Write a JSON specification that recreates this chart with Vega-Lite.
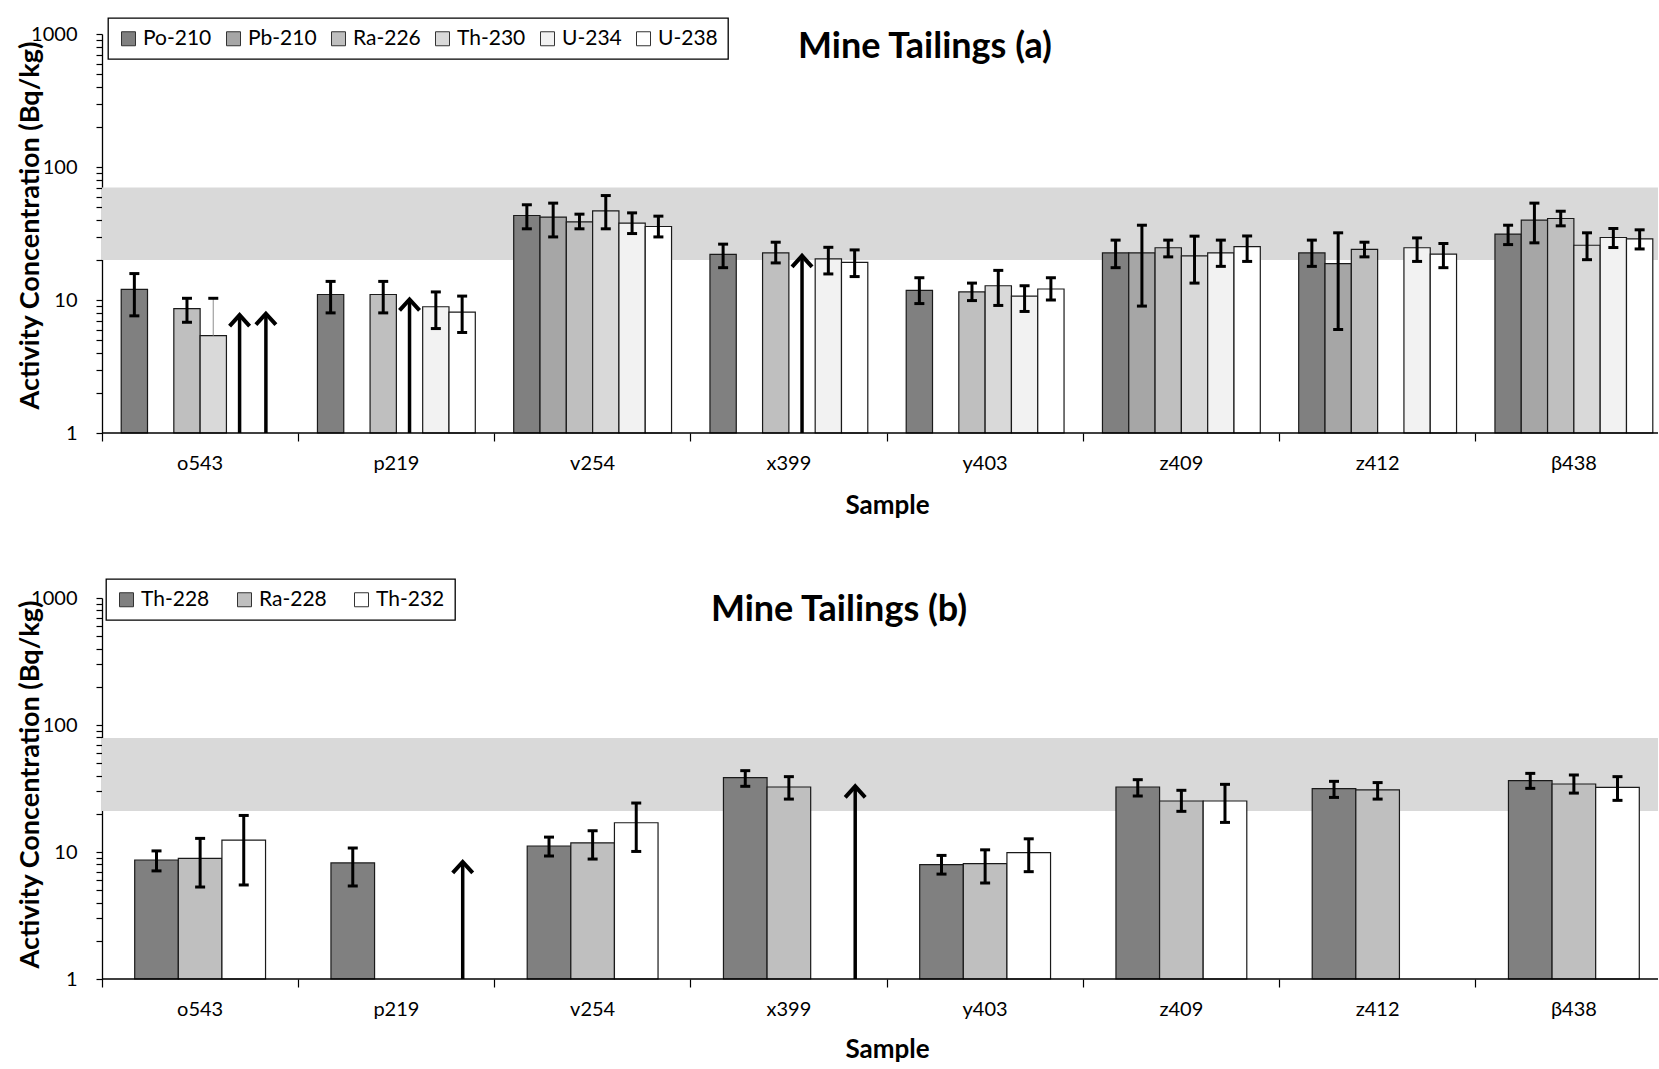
{
  "$schema": "https://vega.github.io/schema/vega-lite/v6.json",
  "background": "white",
  "padding": {"left": 15, "top": 17, "right": 0, "bottom": 0},
  "bounds": "flush",
  "spacing": 165,
  "config": {"font": "Lato", "view": {"stroke": null}, "legend": {"strokeWidth": 1.3}},
  "datasets": {
    "bandA": [{"lo": 20, "hi": 70}],
    "bandB": [{"lo": 21, "hi": 79}],
    "base": [{"v": 1}],
    "barsA": [
      {"sample": "o543", "nuclide": "Po-210", "value": 12.0, "lo": 7.6, "hi": 15.8},
      {"sample": "o543", "nuclide": "Ra-226", "value": 8.6, "lo": 6.8, "hi": 10.3},
      {"sample": "p219", "nuclide": "Po-210", "value": 11.0, "lo": 8.0, "hi": 13.8},
      {"sample": "p219", "nuclide": "Ra-226", "value": 11.0, "lo": 8.0, "hi": 13.8},
      {"sample": "p219", "nuclide": "U-234", "value": 8.9, "lo": 6.1, "hi": 11.5},
      {"sample": "p219", "nuclide": "U-238", "value": 8.1, "lo": 5.7, "hi": 10.7},
      {"sample": "v254", "nuclide": "Po-210", "value": 43.2, "lo": 34.3, "hi": 52.0},
      {"sample": "v254", "nuclide": "Pb-210", "value": 42.0, "lo": 29.8, "hi": 53.5},
      {"sample": "v254", "nuclide": "Ra-226", "value": 38.7, "lo": 34.3, "hi": 44.2},
      {"sample": "v254", "nuclide": "Th-230", "value": 46.8, "lo": 34.3, "hi": 61.0},
      {"sample": "v254", "nuclide": "U-234", "value": 37.8, "lo": 31.6, "hi": 45.2},
      {"sample": "v254", "nuclide": "U-238", "value": 35.7, "lo": 29.8, "hi": 42.7},
      {"sample": "x399", "nuclide": "Po-210", "value": 22.0, "lo": 17.5, "hi": 26.3},
      {"sample": "x399", "nuclide": "Ra-226", "value": 22.6, "lo": 19.0, "hi": 27.2},
      {"sample": "x399", "nuclide": "U-234", "value": 20.4, "lo": 15.7, "hi": 24.9},
      {"sample": "x399", "nuclide": "U-238", "value": 19.2, "lo": 15.0, "hi": 23.8},
      {"sample": "y403", "nuclide": "Po-210", "value": 11.8, "lo": 9.4, "hi": 14.7},
      {"sample": "y403", "nuclide": "Ra-226", "value": 11.5, "lo": 9.9, "hi": 13.4},
      {"sample": "y403", "nuclide": "Th-230", "value": 12.8, "lo": 9.1, "hi": 16.7},
      {"sample": "y403", "nuclide": "U-234", "value": 10.7, "lo": 8.2, "hi": 12.8},
      {"sample": "y403", "nuclide": "U-238", "value": 12.1, "lo": 10.0, "hi": 14.7},
      {"sample": "z409", "nuclide": "Po-210", "value": 22.6, "lo": 17.5, "hi": 28.2},
      {"sample": "z409", "nuclide": "Pb-210", "value": 22.6, "lo": 9.0, "hi": 36.5},
      {"sample": "z409", "nuclide": "Ra-226", "value": 24.7, "lo": 21.1, "hi": 28.2},
      {"sample": "z409", "nuclide": "Th-230", "value": 21.5, "lo": 13.4, "hi": 30.2},
      {"sample": "z409", "nuclide": "U-234", "value": 22.6, "lo": 17.9, "hi": 28.2},
      {"sample": "z409", "nuclide": "U-238", "value": 25.2, "lo": 19.5, "hi": 30.3},
      {"sample": "z412", "nuclide": "Po-210", "value": 22.6, "lo": 17.9, "hi": 28.2},
      {"sample": "z412", "nuclide": "Pb-210", "value": 18.8, "lo": 6.0, "hi": 32.0},
      {"sample": "z412", "nuclide": "Ra-226", "value": 24.0, "lo": 21.1, "hi": 27.2},
      {"sample": "z412", "nuclide": "U-234", "value": 24.7, "lo": 19.5, "hi": 29.3},
      {"sample": "z412", "nuclide": "U-238", "value": 22.1, "lo": 17.5, "hi": 26.6},
      {"sample": "β438", "nuclide": "Po-210", "value": 31.3, "lo": 26.1, "hi": 36.5},
      {"sample": "β438", "nuclide": "Pb-210", "value": 39.8, "lo": 26.9, "hi": 53.5},
      {"sample": "β438", "nuclide": "Ra-226", "value": 41.0, "lo": 36.1, "hi": 46.5},
      {"sample": "β438", "nuclide": "Th-230", "value": 25.8, "lo": 20.1, "hi": 32.0},
      {"sample": "β438", "nuclide": "U-234", "value": 29.5, "lo": 24.8, "hi": 34.5},
      {"sample": "β438", "nuclide": "U-238", "value": 28.8, "lo": 24.2, "hi": 33.7}
    ],
    "thinA": [
      {"sample": "o543", "nuclide": "Th-230", "value": 5.4, "lo": 5.4, "hi": 10.3}
    ],
    "limitsA": [
      {"sample": "o543", "nuclide": "U-234", "value": 7.7},
      {"sample": "o543", "nuclide": "U-238", "value": 7.9},
      {"sample": "p219", "nuclide": "Th-230", "value": 10.1},
      {"sample": "x399", "nuclide": "Th-230", "value": 21.5}
    ],
    "barsB": [
      {"sample": "o543", "nuclide": "Th-228", "value": 8.65, "lo": 7.1, "hi": 10.2},
      {"sample": "o543", "nuclide": "Ra-228", "value": 8.9, "lo": 5.3, "hi": 12.8},
      {"sample": "o543", "nuclide": "Th-232", "value": 12.4, "lo": 5.5, "hi": 19.4},
      {"sample": "p219", "nuclide": "Th-228", "value": 8.2, "lo": 5.4, "hi": 10.75},
      {"sample": "v254", "nuclide": "Th-228", "value": 11.15, "lo": 9.3, "hi": 13.1},
      {"sample": "v254", "nuclide": "Ra-228", "value": 11.8, "lo": 8.8, "hi": 14.7},
      {"sample": "v254", "nuclide": "Th-232", "value": 17.0, "lo": 10.1, "hi": 24.3},
      {"sample": "x399", "nuclide": "Th-228", "value": 38.5, "lo": 32.9, "hi": 43.7},
      {"sample": "x399", "nuclide": "Ra-228", "value": 32.5, "lo": 26.1, "hi": 39.2},
      {"sample": "y403", "nuclide": "Th-228", "value": 7.95, "lo": 6.7, "hi": 9.4},
      {"sample": "y403", "nuclide": "Ra-228", "value": 8.1, "lo": 5.7, "hi": 10.4},
      {"sample": "y403", "nuclide": "Th-232", "value": 9.9, "lo": 7.0, "hi": 12.7},
      {"sample": "z409", "nuclide": "Th-228", "value": 32.5, "lo": 27.6, "hi": 37.1},
      {"sample": "z409", "nuclide": "Ra-228", "value": 25.2, "lo": 20.9, "hi": 30.6},
      {"sample": "z409", "nuclide": "Th-232", "value": 25.2, "lo": 17.1, "hi": 34.1},
      {"sample": "z412", "nuclide": "Th-228", "value": 31.5, "lo": 26.9, "hi": 36.0},
      {"sample": "z412", "nuclide": "Ra-228", "value": 30.8, "lo": 26.1, "hi": 35.2},
      {"sample": "β438", "nuclide": "Th-228", "value": 36.5, "lo": 31.7, "hi": 41.6},
      {"sample": "β438", "nuclide": "Ra-228", "value": 34.3, "lo": 29.1, "hi": 40.4},
      {"sample": "β438", "nuclide": "Th-232", "value": 32.3, "lo": 25.5, "hi": 39.2}
    ],
    "limitsB": [
      {"sample": "p219", "nuclide": "Th-232", "value": 8.35},
      {"sample": "x399", "nuclide": "Th-232", "value": 32.9}
    ]
  },
  "resolve": {
    "scale": {"x": "independent", "y": "independent", "color": "independent", "xOffset": "independent"},
    "legend": {"color": "independent"}
  },
  "vconcat": [
    {
      "width": 1556,
      "height": 399,
      "title": {"text": "Mine Tailings (a)", "fontSize": 36, "font": "Lato", "fontWeight": "bold", "color": "black", "anchor": "middle", "frame": "group", "dx": 45, "offset": -49},
      "layer": [
        {
          "data": {"name": "bandA"},
          "mark": {"type": "rect", "color": "#D9D9D9"},
          "encoding": {
            "y": {"field": "lo", "type": "quantitative", "title": "Activity Concentration (Bq/kg)",
              "scale": {"type": "log", "domain": [1, 1000], "nice": false, "zero": false},
              "axis": {
                "values": [1,2,3,4,5,6,7,8,9,10,20,30,40,50,60,70,80,90,100,200,300,400,500,600,700,800,900,1000],
                "labelExpr": "datum.value == 1 || datum.value == 10 || datum.value == 100 || datum.value == 1000 ? format(datum.value, 'd') : ''",
                "labelFontSize": 20, "labelColor": "black", "labelPadding": 19, "labelOverlap": false,
                "tickSize": 6, "tickColor": "black", "tickWidth": 1.2,
                "domainColor": "black", "domainWidth": 1.3, "grid": false,
                "titleFontSize": 27, "titleFontWeight": "bold", "titleColor": "black",
                "titleX": -72, "titleY": 191, "titleBaseline": "middle", "titleAlign": "center"
              }},
            "y2": {"field": "hi"}
          }
        },
        {
          "data": {"name": "barsA"},
          "mark": {"type": "bar", "stroke": "#1a1a1a", "strokeWidth": 1.2, "opacity": 1},
          "encoding": {
            "x": {"field": "sample", "type": "nominal", "title": "Sample",
              "sort": ["o543","p219","v254","x399","y403","z409","z412","β438"],
              "scale": {"domain": ["o543","p219","v254","x399","y403","z409","z412","β438"], "paddingInner": 0, "paddingOuter": 0, "range": [0, 1570]},
              "axis": {
                "bandPosition": 0, "domain": false,
                "tickSize": 8, "tickColor": "black", "tickWidth": 1.2,
                "labelFontSize": 20, "labelAngle": 0, "labelColor": "black", "labelPadding": 12,
                "titleFontSize": 26, "titleFontWeight": "bold", "titleColor": "black",
                "titleX": 785, "titleY": 72, "titleBaseline": "middle", "titleAlign": "center"
              }},
            "xOffset": {"field": "nuclide", "type": "nominal",
              "scale": {"domain": ["Po-210","Pb-210","Ra-226","Th-230","U-234","U-238"], "paddingInner": 0, "paddingOuter": 0.73}},
            "y": {"field": "value", "type": "quantitative", "title": "Activity Concentration (Bq/kg)"},
            "y2": {"datum": 1},
            "color": {"field": "nuclide", "type": "nominal",
              "scale": {"domain": ["Po-210","Pb-210","Ra-226","Th-230","U-234","U-238"], "range": ["#808080","#A6A6A6","#BFBFBF","#D9D9D9","#F2F2F2","#FFFFFF"]},
              "legend": {"orient": "none", "legendX": 6, "legendY": -16, "direction": "horizontal", "columns": 6, "title": null,
                "symbolType": "square", "symbolSize": 196, "symbolStrokeColor": "#333333", "symbolStrokeWidth": 1, "symbolOpacity": 1,
                "labelFontSize": 21, "labelColor": "black", "labelOffset": 4, "columnPadding": 11, "padding": 10,
                "strokeColor": "black", "fillColor": "white"}}
          }
        },
        {
          "data": {"name": "thinA"},
          "mark": {"type": "bar", "stroke": "#1a1a1a", "strokeWidth": 1.2, "opacity": 1},
          "encoding": {
            "x": {"field": "sample", "type": "nominal", "title": "Sample"},
            "xOffset": {"field": "nuclide", "type": "nominal"},
            "y": {"field": "value", "type": "quantitative", "title": "Activity Concentration (Bq/kg)"},
            "y2": {"datum": 1},
            "color": {"field": "nuclide", "type": "nominal", "legend": null}
          }
        },
        {
          "data": {"name": "thinA"},
          "mark": {"type": "rule", "color": "#A0A0A0", "strokeWidth": 1.2},
          "encoding": {
            "x": {"field": "sample", "type": "nominal", "title": "Sample"},
            "xOffset": {"field": "nuclide", "type": "nominal"},
            "y": {"field": "lo", "type": "quantitative", "title": "Activity Concentration (Bq/kg)"},
            "y2": {"field": "hi"}
          }
        },
        {
          "data": {"name": "thinA"},
          "mark": {"type": "point", "shape": "M-1,0L1,0", "size": 100, "filled": false, "stroke": "black", "strokeWidth": 3, "opacity": 1},
          "encoding": {
            "x": {"field": "sample", "type": "nominal", "title": "Sample"},
            "xOffset": {"field": "nuclide", "type": "nominal"},
            "y": {"field": "hi", "type": "quantitative", "title": "Activity Concentration (Bq/kg)"}
          }
        },
        {
          "data": {"name": "barsA"},
          "mark": {"type": "rule", "color": "black", "strokeWidth": 3},
          "encoding": {
            "x": {"field": "sample", "type": "nominal", "title": "Sample"},
            "xOffset": {"field": "nuclide", "type": "nominal"},
            "y": {"field": "lo", "type": "quantitative", "title": "Activity Concentration (Bq/kg)"},
            "y2": {"field": "hi"}
          }
        },
        {
          "data": {"name": "barsA"},
          "mark": {"type": "point", "shape": "M-1,0L1,0", "size": 100, "filled": false, "stroke": "black", "strokeWidth": 3, "opacity": 1},
          "encoding": {
            "x": {"field": "sample", "type": "nominal", "title": "Sample"},
            "xOffset": {"field": "nuclide", "type": "nominal"},
            "y": {"field": "lo", "type": "quantitative", "title": "Activity Concentration (Bq/kg)"}
          }
        },
        {
          "data": {"name": "barsA"},
          "mark": {"type": "point", "shape": "M-1,0L1,0", "size": 100, "filled": false, "stroke": "black", "strokeWidth": 3, "opacity": 1},
          "encoding": {
            "x": {"field": "sample", "type": "nominal", "title": "Sample"},
            "xOffset": {"field": "nuclide", "type": "nominal"},
            "y": {"field": "hi", "type": "quantitative", "title": "Activity Concentration (Bq/kg)"}
          }
        },
        {
          "data": {"name": "limitsA"},
          "mark": {"type": "rule", "color": "black", "strokeWidth": 3.5},
          "encoding": {
            "x": {"field": "sample", "type": "nominal", "title": "Sample"},
            "xOffset": {"field": "nuclide", "type": "nominal"},
            "y": {"field": "value", "type": "quantitative", "title": "Activity Concentration (Bq/kg)"},
            "y2": {"datum": 1}
          }
        },
        {
          "data": {"name": "limitsA"},
          "mark": {"type": "point", "shape": "M-1,1.1L0,0L1,1.1", "size": 400, "filled": false, "stroke": "black", "strokeWidth": 4, "strokeJoin": "miter", "opacity": 1},
          "encoding": {
            "x": {"field": "sample", "type": "nominal", "title": "Sample"},
            "xOffset": {"field": "nuclide", "type": "nominal"},
            "y": {"field": "value", "type": "quantitative", "title": "Activity Concentration (Bq/kg)"}
          }
        },
        {
          "data": {"name": "base"},
          "mark": {"type": "rule", "color": "black", "strokeWidth": 1.6},
          "encoding": {
            "y": {"field": "v", "type": "quantitative", "title": "Activity Concentration (Bq/kg)"}
          }
        }
      ]
    },
    {
      "width": 1556,
      "height": 381,
      "title": {"text": "Mine Tailings (b)", "fontSize": 36, "font": "Lato", "fontWeight": "bold", "color": "black", "anchor": "middle", "frame": "group", "dx": -41, "offset": -51},
      "layer": [
        {
          "data": {"name": "bandB"},
          "mark": {"type": "rect", "color": "#D9D9D9"},
          "encoding": {
            "y": {"field": "lo", "type": "quantitative", "title": "Activity Concentration (Bq/kg)",
              "scale": {"type": "log", "domain": [1, 1000], "nice": false, "zero": false},
              "axis": {
                "values": [1,2,3,4,5,6,7,8,9,10,20,30,40,50,60,70,80,90,100,200,300,400,500,600,700,800,900,1000],
                "labelExpr": "datum.value == 1 || datum.value == 10 || datum.value == 100 || datum.value == 1000 ? format(datum.value, 'd') : ''",
                "labelFontSize": 20, "labelColor": "black", "labelPadding": 19, "labelOverlap": false,
                "tickSize": 6, "tickColor": "black", "tickWidth": 1.2,
                "domainColor": "black", "domainWidth": 1.3, "grid": false,
                "titleFontSize": 27, "titleFontWeight": "bold", "titleColor": "black",
                "titleX": -72, "titleY": 186, "titleBaseline": "middle", "titleAlign": "center"
              }},
            "y2": {"field": "hi"}
          }
        },
        {
          "data": {"name": "barsB"},
          "mark": {"type": "bar", "stroke": "#1a1a1a", "strokeWidth": 1.2, "opacity": 1},
          "encoding": {
            "x": {"field": "sample", "type": "nominal", "title": "Sample",
              "sort": ["o543","p219","v254","x399","y403","z409","z412","β438"],
              "scale": {"domain": ["o543","p219","v254","x399","y403","z409","z412","β438"], "paddingInner": 0, "paddingOuter": 0, "range": [0, 1570]},
              "axis": {
                "bandPosition": 0, "domain": false,
                "tickSize": 8, "tickColor": "black", "tickWidth": 1.2,
                "labelFontSize": 20, "labelAngle": 0, "labelColor": "black", "labelPadding": 12,
                "titleFontSize": 26, "titleFontWeight": "bold", "titleColor": "black",
                "titleX": 785, "titleY": 70, "titleBaseline": "middle", "titleAlign": "center"
              }},
            "xOffset": {"field": "nuclide", "type": "nominal",
              "scale": {"domain": ["Th-228","Ra-228","Th-232"], "paddingInner": 0, "paddingOuter": 0.75}},
            "y": {"field": "value", "type": "quantitative", "title": "Activity Concentration (Bq/kg)"},
            "y2": {"datum": 1},
            "color": {"field": "nuclide", "type": "nominal",
              "scale": {"domain": ["Th-228","Ra-228","Th-232"], "range": ["#808080","#BFBFBF","#FFFFFF"]},
              "legend": {"orient": "none", "legendX": 4, "legendY": -19, "direction": "horizontal", "columns": 3, "title": null,
                "symbolType": "square", "symbolSize": 196, "symbolStrokeColor": "#333333", "symbolStrokeWidth": 1, "symbolOpacity": 1,
                "labelFontSize": 21, "labelColor": "black", "labelOffset": 4, "columnPadding": 24, "padding": 10,
                "strokeColor": "black", "fillColor": "white"}}
          }
        },
        {
          "data": {"name": "barsB"},
          "mark": {"type": "rule", "color": "black", "strokeWidth": 3},
          "encoding": {
            "x": {"field": "sample", "type": "nominal", "title": "Sample"},
            "xOffset": {"field": "nuclide", "type": "nominal"},
            "y": {"field": "lo", "type": "quantitative", "title": "Activity Concentration (Bq/kg)"},
            "y2": {"field": "hi"}
          }
        },
        {
          "data": {"name": "barsB"},
          "mark": {"type": "point", "shape": "M-1,0L1,0", "size": 100, "filled": false, "stroke": "black", "strokeWidth": 3, "opacity": 1},
          "encoding": {
            "x": {"field": "sample", "type": "nominal", "title": "Sample"},
            "xOffset": {"field": "nuclide", "type": "nominal"},
            "y": {"field": "lo", "type": "quantitative", "title": "Activity Concentration (Bq/kg)"}
          }
        },
        {
          "data": {"name": "barsB"},
          "mark": {"type": "point", "shape": "M-1,0L1,0", "size": 100, "filled": false, "stroke": "black", "strokeWidth": 3, "opacity": 1},
          "encoding": {
            "x": {"field": "sample", "type": "nominal", "title": "Sample"},
            "xOffset": {"field": "nuclide", "type": "nominal"},
            "y": {"field": "hi", "type": "quantitative", "title": "Activity Concentration (Bq/kg)"}
          }
        },
        {
          "data": {"name": "limitsB"},
          "mark": {"type": "rule", "color": "black", "strokeWidth": 3.5},
          "encoding": {
            "x": {"field": "sample", "type": "nominal", "title": "Sample", "bandPosition": 0.838},
            "y": {"field": "value", "type": "quantitative", "title": "Activity Concentration (Bq/kg)"},
            "y2": {"datum": 1}
          }
        },
        {
          "data": {"name": "limitsB"},
          "mark": {"type": "point", "shape": "M-1,1.1L0,0L1,1.1", "size": 400, "filled": false, "stroke": "black", "strokeWidth": 4, "strokeJoin": "miter", "opacity": 1},
          "encoding": {
            "x": {"field": "sample", "type": "nominal", "title": "Sample", "bandPosition": 0.838},
            "y": {"field": "value", "type": "quantitative", "title": "Activity Concentration (Bq/kg)"}
          }
        },
        {
          "data": {"name": "base"},
          "mark": {"type": "rule", "color": "black", "strokeWidth": 1.6},
          "encoding": {
            "y": {"field": "v", "type": "quantitative", "title": "Activity Concentration (Bq/kg)"}
          }
        }
      ]
    }
  ]
}
